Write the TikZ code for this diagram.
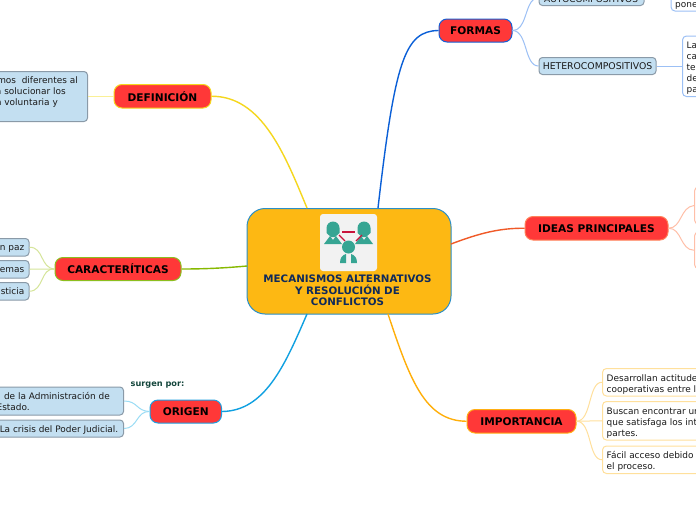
\documentclass[tikz,border=0pt]{standalone}
\usepackage{fontspec}
\setmainfont{DejaVu Sans}
\definecolor{topicred}{HTML}{FF3838}
\definecolor{bluebox}{HTML}{C3DFF1}
\definecolor{grayline}{HTML}{8A9AA8}
\definecolor{teal}{HTML}{36A593}
\definecolor{iconred}{HTML}{C8143C}
\definecolor{navy}{HTML}{0F2A5A}
\definecolor{cfill}{HTML}{FDB813}
\definecolor{lgreen}{HTML}{D5E59A}
\definecolor{lblue}{HTML}{9ADCF5}
\definecolor{bnote}{HTML}{9CC0F5}
\definecolor{onote}{HTML}{FFBFA8}
\definecolor{ynote}{HTML}{FFE09C}
\tikzset{
  x=1pt,y=-1pt,
  at box/.style args={#1/#2/#3/#4}{at={({(#1+#3)/2},{(#2+#4)/2})},minimum width={(#3)-(#1)},minimum height={(#4)-(#2)}},
  topic/.style={rectangle,rounded corners=8pt,fill=topicred,line width=1pt,inner sep=0pt,font=\fontsize{10.6}{12}\selectfont\bfseries,text=black},
  bluenote/.style={rectangle,rounded corners=3.5pt,fill=bluebox,draw=grayline,line width=1pt,inner sep=0pt,font=\fontsize{9.3}{11}\selectfont,text=black!90},
  whitenote/.style={rectangle,rounded corners=4pt,fill=white,line width=1pt,inner sep=0pt,font=\fontsize{8.95}{11}\selectfont,text=black!90},
  notetext/.style={inner sep=0pt,anchor=base west,font=\fontsize{8.95}{11}\selectfont,text=black!90},
  link/.style={line width=1pt},
  mainlink/.style={line width=1.4pt},
  icon/.style={fill=teal,draw=none},
  iconline/.style={draw=iconred,line width=1.3pt}
}
\begin{document}
\begin{tikzpicture}
\useasboundingbox (0,0) rectangle (696,520);
\clip (0,0) rectangle (696,520);
\fill[white] (0,0) rectangle (696,520);

% central
\node[at box=247/208.5/451/314,rectangle,rounded corners=18pt,fill=cfill,draw={rgb,255:red,42;green,143;blue,200},line width=1pt] (main) {};
\node[at box=320/214/377/271,rectangle,rounded corners=3pt,fill=black!5,inner sep=0pt] (iconbox) {};
\fill[icon] (326.5,228) arc[start angle=180,end angle=360,radius=6.5] -- (339.5,233) -- (335,237) -- (331,237) -- (326.5,233) -- cycle;
\fill[icon] (324,244) -- (330,236) -- (333,240) -- (336,236) -- (342,244) -- cycle;
\fill[icon] (357.5,228) arc[start angle=180,end angle=360,radius=6.5] -- (370.5,233) -- (366,237) -- (362,237) -- (357.5,233) -- cycle;
\fill[icon] (355,244) -- (361,236) -- (364,240) -- (367,236) -- (373,244) -- cycle;
\fill[icon] (348.5,247) circle (6.5);
\fill[icon] (340,263) .. controls (340,258) and (342,255) .. (346,254) -- (346,263) -- cycle;
\fill[icon] (357,263) .. controls (357,258) and (355,255) .. (351,254) -- (351,263) -- cycle;
\draw[iconline] (342,232) -- (355,232);
\draw[iconline] (339,235) -- (345,241);
\draw[iconline] (362,235) -- (356,241);
\node[inner sep=0pt,align=center,text=navy,font=\fontsize{10.3}{11.5}\selectfont\bfseries] (maintext) at (347.5,290.5) {MECANISMOS ALTERNATIVOS\\Y RESOLUCIÓN DE\\CONFLICTOS};

% topics
\node[topic,draw={rgb,255:red,245;green,215;blue,30},at box=114/84.5/211/108] (def) {DEFINICIÓN};
\node[topic,draw={rgb,255:red,140;green,190;blue,30},at box=55/257.5/181/280.5] (car) {CARACTERÍTICAS};
\node[topic,draw={rgb,255:red,30;green,160;blue,225},at box=150/400/221.5/423] (ori) {ORIGEN};
\node[topic,draw={rgb,255:red,20;green,95;blue,215},at box=439/19/512/42] (for) {FORMAS};
\node[topic,draw={rgb,255:red,255;green,130;blue,90},at box=525/216.5/668/240] (ide) {IDEAS PRINCIPALES};
\node[topic,draw={rgb,255:red,255;green,175;blue,20},at box=467/409.5/576/433] (imp) {IMPORTANCIA};

% definition note
\node[bluenote,at box=-60/71.5/87.5/121.5] (defn) {};
\node[notetext,anchor=base east] (defa) at (78,83.5) {mos\ \ diferentes al};
\node[notetext,anchor=base east] (defb) at (66,94.5) {a solucionar los};
\node[notetext,anchor=base east] (defc) at (58,105.5) {a voluntaria y};

% caracteristicas notes
\node[bluenote,at box=-40/238.5/29/256] (cara) {};
\node[notetext,anchor=base east] (carat) at (24.5,250.5) {n paz};
\node[bluenote,at box=-40/260.5/29/278] (carb) {};
\node[notetext,anchor=base east] (carbt) at (24.5,272.5) {emas};
\node[bluenote,at box=-40/282.5/29/300] (carc) {};
\node[notetext,anchor=base east] (carct) at (24.5,294.5) {usticia};

% origen notes
\node[bluenote,at box=-60/387/123.5/415] (oria) {};
\node[notetext,anchor=base east] (oriat) at (110,399.5) {de la Administración de};
\node[notetext,anchor=base east] (oriat2) at (30,410.5) {Estado.};
\node[bluenote,at box=-60/420/123.5/437] (orib) {};
\node[notetext,anchor=base east] (oribt) at (118.5,432.5) {La crisis del Poder Judicial.};
\node[inner sep=0pt,anchor=base west,text={rgb,255:red,20;green,70;blue,60},font=\fontsize{8.2}{9}\selectfont\bfseries] (sur) at (130.5,386) {surgen por:};

% formas notes
\node[bluenote,at box=539/-20/644/5.5] (auto) {};
\node[notetext] (autot) at (544,2.5) {AUTOCOMPOSITIVOS};
\node[bluenote,at box=539/57.5/656/74.5] (het) {HETEROCOMPOSITIVOS};
\node[whitenote,draw=bnote,at box=671/-30/760/11] (autn) {};
\node[notetext] (autnt) at (675,7.5) {pone};
\node[whitenote,draw=bnote,at box=682.5/36/760/96.5] (hetn) {};
\node[notetext] (h1) at (686.5,48) {La};
\node[notetext] (h2) at (686.5,59) {ca};
\node[notetext] (h3) at (686.5,70) {te};
\node[notetext] (h4) at (686.5,81) {de};
\node[notetext] (h5) at (686.5,92) {pa};

% ideas notes
\node[whitenote,draw=onote,at box=694.5/187/760/224] (idea) {};
\node[whitenote,draw=onote,at box=694.5/232/760/268.5] (ideb) {};

% importancia notes
\node[whitenote,draw=ynote,at box=602.5/368.5/780/396] (ima) {};
\node[notetext] (ima1) at (606.5,381) {Desarrollan actitude};
\node[notetext] (ima2) at (606.5,392) {cooperativas entre l};
\node[whitenote,draw=ynote,at box=602.5/401.5/780/440] (imb) {};
\node[notetext] (imb1) at (606.5,414) {Buscan encontrar ur};
\node[notetext] (imb2) at (606.5,425) {que satisfaga los int};
\node[notetext] (imb3) at (606.5,436) {partes.};
\node[whitenote,draw=ynote,at box=602.5/446/780/473.5] (imc) {};
\node[notetext] (imc1) at (606.5,458) {Fácil acceso debido};
\node[notetext] (imc2) at (606.5,469) {el proceso.};

% main links
\coordinate (mdef) at (307,208);
\coordinate (mfor) at (378,208);
\coordinate (mcar) at (247,266);
\coordinate (mide) at (451,244);
\coordinate (mori) at (307,314);
\coordinate (mimp) at (388,314);
\draw[mainlink,draw={rgb,255:red,245;green,215;blue,30}] (def.east) .. controls (262,96) and (285,155) .. (mdef);
\draw[mainlink,draw={rgb,255:red,10;green,95;blue,215}] (for.west) .. controls (405,31) and (395,60) .. (mfor);
\draw[mainlink,draw={rgb,255:red,135;green,185;blue,0}] (car.east) .. controls (205,269) and (225,268) .. (mcar);
\draw[mainlink,draw={rgb,255:red,240;green,90;blue,40}] (mide) .. controls (480,233) and (500,228) .. (ide.west);
\draw[mainlink,draw={rgb,255:red,15;green,160;blue,225}] (ori.east) .. controls (265,411) and (285,365) .. (mori);
\draw[mainlink,draw={rgb,255:red,255;green,175;blue,10}] (mimp) .. controls (410,380) and (425,421) .. (imp.west);

% secondary links
\draw[link,draw=lgreen] (car.west) .. controls (40,268) and (44,247) .. (cara.east);
\draw[link,draw=lgreen] (car.west) -- (carb.east);
\draw[link,draw=lgreen] (car.west) .. controls (40,268) and (44,291) .. (carc.east);
\draw[link,draw={rgb,255:red,250;green,240;blue,150}] (def.west) -- (defn.east |- def.west);
\draw[link,draw=lblue] (ori.west) .. controls (136,411) and (138,401) .. (oria.east);
\draw[link,draw=lblue] (ori.west) .. controls (136,411) and (138,428.5) .. (orib.east);
\draw[link,draw=bnote] (for.east) .. controls (528,31) and (524,66) .. (het.west);
\draw[link,draw=bnote] (for.east) .. controls (526,31) and (525,5) .. (534,-1);
\draw[link,draw=bnote] (het.east) -- (hetn.west |- het.east);
\draw[link,draw=onote] (ide.east) .. controls (682,228) and (680,207) .. (idea.west);
\draw[link,draw=onote] (ide.east) .. controls (682,228) and (680,250) .. (ideb.west);
\draw[link,draw=ynote] (imp.east) .. controls (592,421) and (588,382) .. (ima.west);
\draw[link,draw=ynote] (imp.east) -- (imb.west);
\draw[link,draw=ynote] (imp.east) .. controls (592,421) and (588,460) .. (imc.west);
\end{tikzpicture}
\end{document}
